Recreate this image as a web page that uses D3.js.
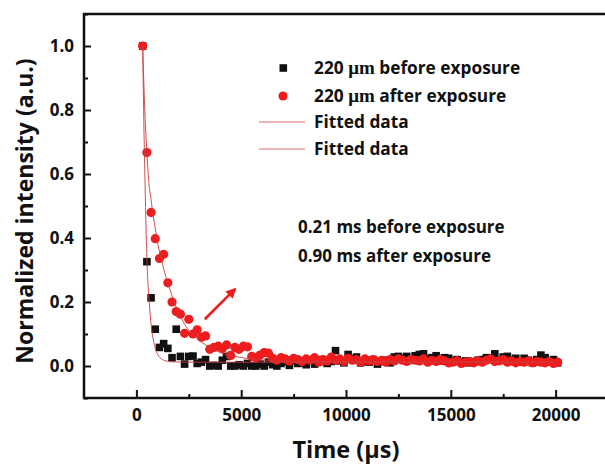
<!DOCTYPE html>
<html>
<head>
<meta charset="utf-8">
<script src="https://cdn.jsdelivr.net/npm/d3@7"></script>
<style>
  body { margin: 0; background: #fff; }
  text { font-family: "Open Sans", Lato, sans-serif; font-weight: bold; fill: #111; }
</style>
</head>
<body>
<svg id="drawing_region"></svg>
<script>
// time axis (µs), shared by both measured series
const time = [
  300, 500, 700, 900, 1100, 1300, 1500, 1700, 1900, 2100,
  2300, 2500, 2700, 2900, 3100, 3300, 3500, 3700, 3900, 4100,
  4300, 4500, 4700, 4900, 5100, 5300, 5500, 5700, 5900, 6100,
  6300, 6500, 6700, 6900, 7100, 7300, 7500, 7700, 7900, 8100,
  8300, 8500, 8700, 8900, 9100, 9300, 9500, 9700, 9900, 10100,
  10300, 10500, 10700, 10900, 11100, 11300, 11500, 11700, 11900, 12100,
  12300, 12500, 12700, 12900, 13100, 13300, 13500, 13700, 13900, 14100,
  14300, 14500, 14700, 14900, 15100, 15300, 15500, 15700, 15900, 16100,
  16300, 16500, 16700, 16900, 17100, 17300, 17500, 17700, 17900, 18100,
  18300, 18500, 18700, 18900, 19100, 19300, 19500, 19700, 19900, 20100
];

const before = [
  1.0, 0.326, 0.213, 0.115, 0.058, 0.07, 0.055, 0.026, 0.115, 0.03,
  0.006, 0.03, 0.031, 0.008, 0.012, 0.02, 0.0, 0.002, 0.0, 0.018,
  0.03, 0.0, 0.0, 0.004, 0.0, 0.008, 0.0, 0.0, 0.006, 0.0,
  0.012, 0.004, 0.0, 0.008, 0.014, 0.002, 0.016, 0.008, 0.01, 0.004,
  0.018, 0.006, 0.012, 0.02, 0.008, 0.014, 0.048, 0.016, 0.01, 0.036,
  0.022, 0.028, 0.01, 0.016, 0.012, 0.02, 0.006, 0.014, 0.018, 0.01,
  0.028, 0.03, 0.024, 0.03, 0.02, 0.032, 0.036, 0.038, 0.022, 0.026,
  0.032, 0.016, 0.026, 0.024, 0.016, 0.02, 0.012, 0.016, 0.01, 0.014,
  0.018, 0.02, 0.026, 0.024, 0.038, 0.018, 0.028, 0.03, 0.02, 0.024,
  0.014, 0.024, 0.018, 0.01, 0.02, 0.034, 0.026, 0.014, 0.02, 0.01
];

const after = [
  1.0, 0.667, 0.48, 0.398, 0.336, 0.349, 0.26, 0.2, 0.17, 0.162,
  0.102, 0.146, 0.1, 0.113, 0.09, 0.094, 0.052, 0.058, 0.062, 0.055,
  0.066, 0.033, 0.058, 0.052, 0.062, 0.06, 0.03, 0.026, 0.034, 0.042,
  0.04, 0.024, 0.018, 0.026, 0.022, 0.016, 0.024, 0.02, 0.014, 0.022,
  0.018, 0.026, 0.012, 0.02, 0.016, 0.028, 0.018, 0.022, 0.014, 0.024,
  0.018, 0.02, 0.012, 0.022, 0.016, 0.02, 0.014, 0.018, 0.012, 0.02,
  0.016, 0.022, 0.018, 0.014, 0.02, 0.018, 0.016, 0.022, 0.012, 0.018,
  0.014, 0.02, 0.016, 0.01, 0.012, 0.016, 0.008, 0.012, 0.014, 0.01,
  0.016, 0.012, 0.018, 0.022, 0.014, 0.016, 0.02, 0.012, 0.016, 0.01,
  0.014, 0.012, 0.016, 0.01, 0.014, 0.012, 0.01, 0.014, 0.008, 0.012
];

// fitted curves
const fitBeforeTime = [300, 350, 400, 450, 500, 550, 600, 700, 800, 900, 1000, 1200, 1400, 1700, 2200, 20000];
const fitBeforeValue = [1.0, 0.78, 0.61, 0.46, 0.34, 0.26, 0.21, 0.13, 0.085, 0.055, 0.038, 0.022, 0.016, 0.013, 0.012, 0.012];

const fitAfterTime = [300, 400, 500, 600, 700, 800, 900, 1000, 1200, 1400, 1600, 1800, 2000, 2300, 2600, 3000, 3500, 4000, 4700, 5500, 6500, 8000, 10000, 20000];
const fitAfterValue = [1.0, 0.8, 0.667, 0.57, 0.52, 0.47, 0.43, 0.39, 0.33, 0.28, 0.24, 0.2, 0.17, 0.13, 0.105, 0.08, 0.058, 0.042, 0.03, 0.022, 0.017, 0.014, 0.013, 0.012];

const xTicks = [0, 5000, 10000, 15000, 20000];
const xMinor = [2500, 7500, 12500, 17500, 22500];
const yTicks = [0.0, 0.2, 0.4, 0.6, 0.8, 1.0];
const yMinor = [-0.1, 0.1, 0.3, 0.5, 0.7, 0.9, 1.1];

const legendLabels = ["before exposure", "after exposure", "Fitted data", "Fitted data"];
const notes = ["0.21 ms before exposure", "0.90 ms after exposure"];

const config = {
    width: 605,
    height: 465,
    margin: {top: 14, right: -3, bottom: 67, left: 84}
};

const svg = d3.select('#drawing_region')
    .attr('width', config.width)
    .attr('height', config.height);

const inner_width = config.width - config.margin.left - config.margin.right;
const inner_height = config.height - config.margin.top - config.margin.bottom;

const chart = svg.append('g')
    .attr('transform', `translate(${config.margin.left}, ${config.margin.top})`);

const xscale = d3.scaleLinear().domain([-2500, 22500]).range([0, inner_width]);
const yscale = d3.scaleLinear().domain([-0.1, 1.1]).range([inner_height, 0]);

const red = '#ee1c1c';
const fitColor = '#cc3a3a';

// axes (ticks point inward)
chart.append('g')
    .attr('transform', `translate(0, ${inner_height})`)
    .call(d3.axisBottom(xscale).tickValues(xTicks).tickSizeInner(-8).tickSizeOuter(0).tickPadding(11).tickFormat(d3.format('d')));
chart.append('g')
    .attr('transform', `translate(0, ${inner_height})`)
    .call(d3.axisBottom(xscale).tickValues(xMinor).tickSize(-4).tickFormat(''));

chart.append('g')
    .call(d3.axisLeft(yscale).tickValues(yTicks).tickSizeInner(-7).tickSizeOuter(0).tickPadding(10).tickFormat(d3.format('.1f')));
chart.append('g')
    .call(d3.axisLeft(yscale).tickValues(yMinor).tickSize(-4).tickFormat(''));

chart.selectAll('.domain').remove();
chart.selectAll('.tick line').attr('stroke', '#111').attr('stroke-width', 2);
chart.selectAll('.tick text').attr('font-size', 17).attr('fill', '#111')
    .attr('font-family', '"Open Sans", sans-serif').attr('font-weight', 'bold');

chart.append('rect')
    .attr('x', 0).attr('y', 0)
    .attr('width', inner_width).attr('height', inner_height)
    .attr('fill', 'none').attr('stroke', '#111').attr('stroke-width', 2.5);

// measured data
const beforeData = time.map((t, i) => ({x: t, y: before[i]}));
const afterData = time.map((t, i) => ({x: t, y: after[i]}));

chart.selectAll('.sq')
    .data(beforeData)
    .enter()
    .append('rect')
    .attr('x', d => xscale(d.x) - 3.8)
    .attr('y', d => yscale(d.y) - 3.8)
    .attr('width', 7.6).attr('height', 7.6)
    .attr('fill', '#111');

chart.selectAll('.dot')
    .data(afterData)
    .enter()
    .append('circle')
    .attr('cx', d => xscale(d.x))
    .attr('cy', d => yscale(d.y))
    .attr('r', 4.6)
    .attr('fill', red);

// fitted curves
const line = d3.line()
    .x(d => xscale(d.x))
    .y(d => yscale(d.y))
    .curve(d3.curveMonotoneX);

[[fitBeforeTime, fitBeforeValue], [fitAfterTime, fitAfterValue]].forEach(([ts, vs]) => {
    chart.append('path')
        .attr('d', line(ts.map((t, i) => ({x: t, y: vs[i]}))))
        .attr('fill', 'none')
        .attr('stroke', fitColor)
        .attr('stroke-width', 0.9);
});

// arrow
svg.append('defs').append('marker')
    .attr('id', 'head')
    .attr('viewBox', '0 0 10 10')
    .attr('refX', 8).attr('refY', 5)
    .attr('markerWidth', 4).attr('markerHeight', 4)
    .attr('orient', 'auto')
    .append('path')
    .attr('d', 'M0,0 L10,5 L0,10 z')
    .attr('fill', red);

chart.append('line')
    .attr('x1', xscale(3260)).attr('y1', yscale(0.146))
    .attr('x2', xscale(4700)).attr('y2', yscale(0.24))
    .attr('stroke', red).attr('stroke-width', 2.6)
    .attr('marker-end', 'url(#head)');

// legend
const legend = svg.append('g');
const rowY = [68, 96, 122, 149];
legend.append('rect').attr('x', 279.5).attr('y', rowY[0] - 3.8).attr('width', 7.6).attr('height', 7.6).attr('fill', '#111');
legend.append('circle').attr('cx', 283).attr('cy', rowY[1]).attr('r', 4.6).attr('fill', red);
legend.append('line').attr('x1', 259).attr('x2', 305).attr('y1', rowY[2]).attr('y2', rowY[2]).attr('stroke', '#e06a6a').attr('stroke-width', 1);
legend.append('line').attr('x1', 259).attr('x2', 305).attr('y1', rowY[3]).attr('y2', rowY[3]).attr('stroke', '#e06a6a').attr('stroke-width', 1);

legendLabels.forEach((label, i) => {
    const t = legend.append('text')
        .attr('x', 314).attr('y', rowY[i] + 6)
        .attr('font-size', 17.3);
    if (i < 2) {
        t.append('tspan').text('220 ');
        t.append('tspan')
            .style('font-family', '"Liberation Serif", serif')
            .style('font-size', '19px')
            .text('\u03bcm');
        t.append('tspan').text(' ' + label);
    } else {
        t.text(label);
    }
});

// notes
notes.forEach((n, i) => {
    svg.append('text')
        .attr('x', 298).attr('y', 233 + i * 29)
        .attr('font-size', 17)
        .text(n);
});

// axis titles
svg.append('text')
    .attr('x', 346).attr('y', 458)
    .attr('text-anchor', 'middle')
    .attr('font-size', 23.5)
    .text('Time (\u00b5s)');

svg.append('text')
    .attr('transform', 'translate(33, 211) rotate(-90)')
    .attr('text-anchor', 'middle')
    .attr('font-size', 23)
    .text('Normalized intensity (a.u.)');
</script>
</body>
</html>
